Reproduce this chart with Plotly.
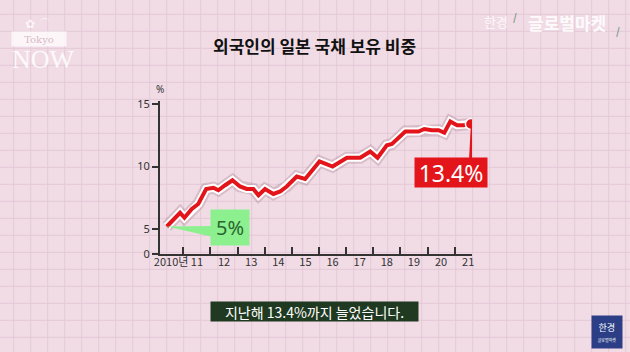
import plotly.graph_objects as go

# ---------------- data ----------------
years_x = [2010.39, 2010.88, 2011.04, 2011.31, 2011.55, 2011.84, 2012.11, 2012.29,
           2012.54, 2012.81, 2013.09, 2013.34, 2013.58, 2013.77, 2014.01, 2014.32,
           2014.57, 2014.81, 2015.18, 2015.49, 2016.02, 2016.50, 2017.03, 2017.52,
           2017.89, 2018.16, 2018.50, 2018.69, 2019.18, 2019.67, 2019.88, 2020.16,
           2020.41, 2020.62, 2020.84, 2021.09, 2021.33, 2021.60]
share = [5.2, 6.3, 5.9, 6.6, 7.0, 8.2, 8.3, 8.1, 8.5, 8.9, 8.4, 8.2, 8.2, 7.7,
         8.2, 7.8, 8.0, 8.4, 9.2, 9.0, 10.4, 10.0, 10.7, 10.7, 11.2, 10.7, 11.7,
         11.8, 12.8, 12.8, 13.0, 12.9, 12.9, 12.7, 13.6, 13.3, 13.3, 13.4]
tick_years = [2011, 2012, 2013, 2014, 2015, 2016, 2017, 2018, 2019, 2020, 2021]
label_pos = [2010.55, 2011.5, 2012.5, 2013.5, 2014.5, 2015.5, 2016.5, 2017.5,
             2018.5, 2019.5, 2020.5, 2021.5]
label_text = ["2010년", "11", "12", "13", "14", "15", "16", "17", "18", "19", "20", "21"]
y_tickvals = [3, 5, 10, 15]          # broken axis: bottom shown as 0
y_ticktext = ["0", "5", "10", "15"]
title = "외국인의 일본 국채 보유 비중"
caption = "지난해 13.4%까지 늘었습니다."
start_label = "5%"
end_label = "13.4%"

# ---------------- layout geometry ----------------
W, H = 630, 352
L, R, T, B = 160, 158, 101, 98
XR = [2010.14, 2021.64]
YR = [3, 15.24]
pw, ph = W - L - R, H - T - B

def px(x):  # pixel -> paper x
    return (x - L) / pw

def py(y):  # pixel -> paper y
    return (H - B - y) / ph

def xd(x):  # pixel -> data x
    return XR[0] + (x - L) / pw * (XR[1] - XR[0])

def yd(y):  # pixel -> data y
    return YR[0] + (H - B - y) / ph * (YR[1] - YR[0])

BG = "#f1dce6"
GRID = "#e4c9d5"
RED = "#e3151b"
KFONT = "Noto Sans CJK KR"

fig = go.Figure()

# line: shadow, white outline, red line
fig.add_trace(go.Scatter(x=years_x, y=share, mode="lines",
                         line=dict(color="rgba(90,30,50,0.16)", width=12),
                         hoverinfo="skip", showlegend=False))
fig.add_trace(go.Scatter(x=years_x, y=share, mode="lines",
                         line=dict(color="white", width=8),
                         hoverinfo="skip", showlegend=False))
fig.add_trace(go.Scatter(x=years_x, y=share, mode="lines",
                         line=dict(color=RED, width=4),
                         hoverinfo="skip", showlegend=False))
fig.add_trace(go.Scatter(x=[years_x[-1]], y=[share[-1]], mode="markers",
                         marker=dict(color=RED, size=11, line=dict(color="white", width=1.5)),
                         hoverinfo="skip", showlegend=False))
# invisible trace for label axis
fig.add_trace(go.Scatter(x=[label_pos[0]], y=[share[0]], xaxis="x2", mode="markers",
                         marker=dict(opacity=0), hoverinfo="skip", showlegend=False))

shapes = []
# background grid
gx = 13.7
while gx < W:
    shapes.append(dict(type="line", xref="paper", yref="paper", x0=px(gx), x1=px(gx),
                       y0=py(0), y1=py(H), line=dict(color=GRID, width=1), layer="below"))
    gx += 17
gy = 14.3
while gy < H:
    shapes.append(dict(type="line", xref="paper", yref="paper", x0=px(0), x1=px(W),
                       y0=py(gy), y1=py(gy), line=dict(color=GRID, width=1), layer="below"))
    gy += 17

# green callout pointer
x0, y0 = years_x[0], share[0]
shapes.append(dict(type="path", xref="x", yref="y",
                   path=f"M {x0},{y0} L {xd(213)},{yd(226)} L {xd(213)},{yd(237)} Z",
                   fillcolor="#8cf08f", line=dict(width=0), layer="above"))
# red callout pointer
x1, y1 = years_x[-1], share[-1]
shapes.append(dict(type="path", xref="x", yref="y",
                   path=f"M {x1},{y1} L {xd(469)},{yd(160)} L {xd(479)},{yd(160)} Z",
                   fillcolor=RED, line=dict(width=0), layer="above"))

annotations = [
    dict(text=title, xref="paper", yref="paper", x=px(314), y=py(46), showarrow=False,
         xanchor="center", yanchor="middle",
         font=dict(family=KFONT, size=17, color="#111111", weight="bold")),
    dict(text="%", xref="paper", yref="paper", x=px(160), y=py(89), showarrow=False,
         xanchor="center", yanchor="middle", font=dict(family="Noto Sans", size=10, color="#333")),
    dict(text=start_label, xref="paper", yref="paper", x=px(229.7), y=py(227.5), showarrow=False,
         xanchor="center", yanchor="middle", width=36, height=33, bgcolor="#8cf08f",
         font=dict(family="Noto Sans", size=20, color="#2a6630")),
    dict(text=end_label, xref="paper", yref="paper", x=px(450.7), y=py(172.8), showarrow=False,
         xanchor="center", yanchor="middle", width=70, height=27, bgcolor=RED,
         font=dict(family="Noto Sans", size=23, color="white")),
    dict(text=caption, xref="paper", yref="paper", x=px(314), y=py(311), showarrow=False,
         xanchor="center", yanchor="middle", width=205, height=17, bgcolor="#1f3a21",
         font=dict(family=KFONT, size=14, color="white")),
    # top-left logo
    dict(text="Tokyo", xref="paper", yref="paper", x=px(39), y=py(39), showarrow=False,
         xanchor="center", yanchor="middle", width=52, height=12, bgcolor="rgba(255,255,255,0.75)",
         font=dict(family="DejaVu Serif", size=10, color="#d9b8c6")),
    dict(text="NOW", xref="paper", yref="paper", x=px(43), y=py(59), showarrow=False,
         xanchor="center", yanchor="middle",
         font=dict(family="Liberation Serif", size=26, color="rgba(255,255,255,0.85)")),
    dict(text="✿ ⌒", xref="paper", yref="paper", x=px(38), y=py(24), showarrow=False,
         xanchor="center", yanchor="middle",
         font=dict(family="DejaVu Sans", size=12, color="rgba(255,255,255,0.75)")),
    # top-right logo
    dict(text="한경", xref="paper", yref="paper", x=px(496), y=py(21), showarrow=False,
         xanchor="center", yanchor="middle",
         font=dict(family=KFONT, size=13, color="rgba(255,255,255,0.8)")),
    dict(text="/", xref="paper", yref="paper", x=px(515), y=py(17), showarrow=False,
         xanchor="center", yanchor="middle",
         font=dict(family=KFONT, size=10, color="#7f9a8e", weight="bold")),
    dict(text="글로벌마켓", xref="paper", yref="paper", x=px(567), y=py(22), showarrow=False,
         xanchor="center", yanchor="middle",
         font=dict(family=KFONT, size=17, color="rgba(255,255,255,0.9)", weight="bold")),
    dict(text="/", xref="paper", yref="paper", x=px(618), y=py(30), showarrow=False,
         xanchor="center", yanchor="middle",
         font=dict(family=KFONT, size=10, color="#7f9a8e", weight="bold")),
    # bottom-right logo
    dict(text="한경<br><span style='font-size:4px'>글로벌마켓</span>", xref="paper", yref="paper",
         x=px(607), y=py(331.5), showarrow=False, xanchor="center", yanchor="middle",
         width=28, height=30, bgcolor="#2c3f86",
         font=dict(family=KFONT, size=9, color="white")),
]

fig.update_layout(
    width=W, height=H, autosize=False,
    margin=dict(l=L, r=R, t=T, b=B, pad=0),
    paper_bgcolor=BG, plot_bgcolor="rgba(0,0,0,0)",
    shapes=shapes, annotations=annotations,
    xaxis=dict(range=XR, showgrid=False, zeroline=False, showline=True, linecolor="#333333",
               linewidth=2, ticks="inside", ticklen=7, tickwidth=2, tickcolor="#333333",
               tickvals=tick_years, showticklabels=False, fixedrange=True),
    xaxis2=dict(range=XR, overlaying="x", anchor="y", side="bottom", showgrid=False,
                zeroline=False, showline=False, ticks="", tickvals=label_pos,
                ticktext=label_text, tickfont=dict(family=KFONT, size=11, color="#333333"),
                fixedrange=True),
    yaxis=dict(range=YR, showgrid=False, zeroline=False, showline=True, linecolor="#333333",
               linewidth=2, ticks="outside", ticklen=6, tickwidth=1.5, tickcolor="#333333",
               tickvals=y_tickvals, ticktext=y_ticktext,
               tickfont=dict(family="Noto Sans", size=11, color="#333333"), fixedrange=True),
    showlegend=False,
)

fig.write_html("out.html")
